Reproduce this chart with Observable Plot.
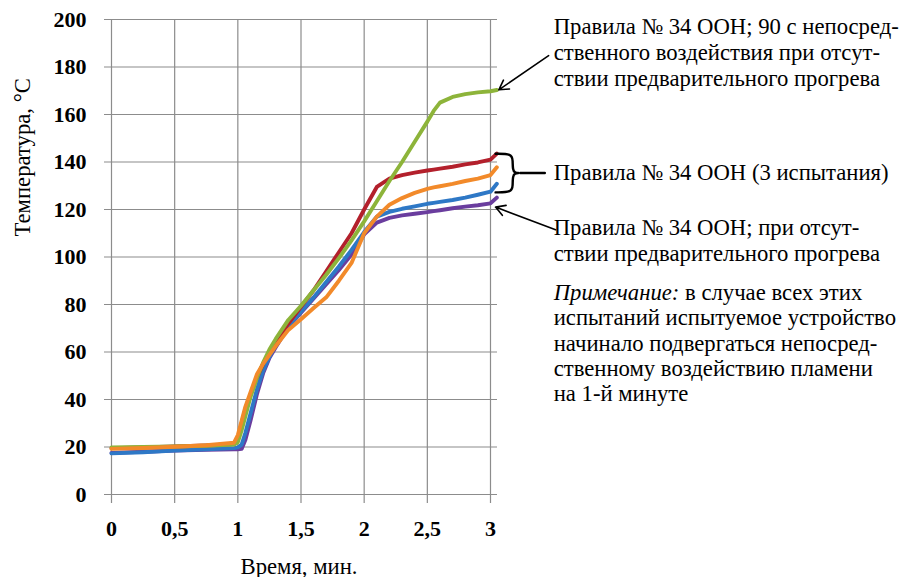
<!DOCTYPE html>
<html>
<head>
<meta charset="utf-8">
<script src="https://cdn.jsdelivr.net/npm/d3@7"></script>
<script src="https://cdn.jsdelivr.net/npm/@observablehq/plot@0.6"></script>
<style>
  html, body { margin: 0; padding: 0; background: #fff; }
  #chart { width: 904px; height: 577px; }
  #chart svg, #chart svg text, #chart svg tspan { font-family: "Liberation Serif", "Times New Roman", "DejaVu Serif", serif !important; }
</style>
</head>
<body>
<div id="chart"></div>
<script>
// ---- data ----
const time = [0, 0.25, 0.5, 0.75, 0.97, 1.0, 1.03, 1.06, 1.1, 1.15, 1.2, 1.25, 1.3, 1.4, 1.5, 1.6, 1.7, 1.8, 1.9, 2.0, 2.1, 2.2, 2.3, 2.4, 2.5, 2.55, 2.6, 2.7, 2.8, 2.9, 3.0, 3.05];
const green  = [19.8, 20, 20.2, 20.5, 21, 22, 27, 33, 41, 49, 55.5, 61, 65.5, 73.5, 79.5, 86, 92.5, 99.5, 107, 115, 123.5, 132, 140, 148.5, 157, 161.5, 165, 167.4, 168.6, 169.3, 169.8, 170.3];
const red    = [19.5, 19.8, 20.2, 20.6, 21.2, 23, 30, 36, 42, 49, 55, 60, 64, 72, 79, 86, 94, 102, 110, 120, 129.5, 133, 134.5, 135.5, 136.4, 136.8, 137.2, 138, 139, 139.8, 141, 143.5];
const orange = [19.2, 19.6, 20.1, 20.7, 21.8, 25, 31, 37, 43, 50.5, 55, 58.8, 62.5, 69.3, 73.8, 78.5, 83, 90, 97.5, 110, 117, 122, 124.8, 127, 128.7, 129.3, 129.8, 130.8, 132, 133, 134.5, 137.8];
const blue   = [17.3, 17.8, 18.5, 19, 19.5, 19.8, 21, 26, 34, 44, 52, 58, 63, 71, 77, 83, 89.5, 96, 103, 110.5, 117, 119, 120.3, 121.3, 122.4, 122.8, 123.2, 124, 125, 126.2, 127.5, 130.8];
const purple = [17.5, 18, 18.5, 18.8, 19, 19, 19.2, 23, 31, 42, 51, 57.5, 62, 70.5, 76.5, 82.5, 88.5, 94.5, 101, 109.5, 114.5, 116.5, 117.5, 118.2, 118.9, 119.3, 119.7, 120.5, 121.2, 121.8, 122.6, 125];

const xTicks = [0, 0.5, 1, 1.5, 2, 2.5, 3];
const yTicks = [0, 20, 40, 60, 80, 100, 120, 140, 160, 180, 200];
const xTitle = "Время, мин.";
const yTitle = "Температура, °C";
const labelGreen = "Правила № 34 ООН; 90 с непосред-\nственного воздействия при отсут-\nствии предварительного прогрева";
const labelGroup = "Правила № 34 ООН (3 испытания)";
const labelPurple = "Правила № 34 ООН; при отсут-\nствии предварительного прогрева";
const noteItalic = "Примечание:";
const noteText = "Примечание: в случае всех этих\nиспытаний испытуемое устройство\nначинало подвергаться непосред-\nственному воздействию пламени\nна 1-й минуте";

// ---- build tables ----
const toRows = (vals) => time.map((t, i) => ({t, v: vals[i]}));
const seriesDraw = [
  {vals: purple, color: "#6a3d9e"},
  {vals: blue,   color: "#2e78c6"},
  {vals: red,    color: "#b3202c"},
  {vals: green,  color: "#8db43a"},
  {vals: orange, color: "#f28a2a"}
];

const last = time.length - 1;
const tEnd = time[last];
const braceTop = red[last];
const braceBot = blue[last] - 3.6;
const braceMid = (braceTop + braceBot) / 2;
const braceX0 = tEnd - 0.01, braceX1 = tEnd + 0.12, braceTip = tEnd + 0.185, braceEnd = tEnd + 0.38;
const brace = [
  {x: braceX0, y: braceTop}, {x: braceX1, y: braceTop}, {x: braceX1 + 0.006, y: braceTop - 3},
  {x: braceX1 + 0.006, y: braceMid + 1.6}, {x: braceX1 + 0.02, y: braceMid}, {x: braceTip, y: braceMid},
  {x: braceX1 + 0.02, y: braceMid}, {x: braceX1 + 0.006, y: braceMid - 1.6},
  {x: braceX1 + 0.006, y: braceBot + 3}, {x: braceX1, y: braceBot}, {x: braceX0, y: braceBot}
];

const font = "Liberation Serif, Times New Roman, serif";
const textX = 3.5;
const T = {fontFamily: font};
const A = {fontFamily: font, fontSize: 22.7};

const chart = Plot.plot({
  width: 904,
  height: 577,
  marginLeft: 104,
  marginRight: 407,
  marginTop: 19,
  marginBottom: 74,
  x: {domain: [-0.0554, 3.0554]},
  y: {domain: [-3.8, 200]},
  style: {fontFamily: font, fontSize: "22px", background: "#fff", color: "#000", overflow: "visible"},
  marks: [
    Plot.ruleY(yTicks, {stroke: "#8c8c8c", strokeWidth: 1.2}),
    Plot.ruleX(xTicks, {stroke: "#8c8c8c", strokeWidth: 1.2}),
    Plot.axisY(yTicks, {...T, tickSize: 0, tickPadding: 18, fontWeight: "bold", label: null}),
    Plot.axisX(xTicks, {...T, tickSize: 0, tickPadding: 17, fontWeight: "bold", label: null,
      tickFormat: d => String(d).replace(".", ",")}),
    ...seriesDraw.map(s => Plot.line(toRows(s.vals), {x: "t", y: "v", stroke: s.color, strokeWidth: 3.9, strokeLinejoin: "round", strokeLinecap: "round"})),
    Plot.text([xTitle], {...A, frameAnchor: "bottom", text: d => d, dx: -2, dy: 63, lineAnchor: "middle"}),
    Plot.text([yTitle], {...A, frameAnchor: "left", text: d => d, rotate: -90, dx: -82, dy: -25, lineAnchor: "middle"}),
    // annotations
    Plot.text([labelGreen], {...A, x: textX, y: 186.3, text: d => d, textAnchor: "start", lineAnchor: "middle", lineHeight: 1.15}),
    Plot.text([labelGroup], {...A, x: textX, y: braceMid, text: d => d, textAnchor: "start", lineAnchor: "middle"}),
    Plot.text([labelPurple], {...A, x: textX, y: 107.2, text: d => d, textAnchor: "start", lineAnchor: "middle", lineHeight: 1.11}),
    Plot.text([noteText], {...A, x: textX, y: 64, text: d => d, textAnchor: "start", lineAnchor: "middle", lineHeight: 1.11}),
    Plot.arrow([{x1: 3.46, y1: 184.8, x2: tEnd + 0.016, y2: green[last] + 0.1}], {x1: "x1", y1: "y1", x2: "x2", y2: "y2", stroke: "#000", strokeWidth: 1.6, headLength: 10, bend: 0}),
    Plot.arrow([{x1: 3.515, y1: 111.5, x2: tEnd - 0.01, y2: purple[last] - 4}], {x1: "x1", y1: "y1", x2: "x2", y2: "y2", stroke: "#000", strokeWidth: 1.6, headLength: 10, bend: 0}),
    Plot.line(brace, {x: "x", y: "y", curve: "basis", stroke: "#000", strokeWidth: 2.4}),
    Plot.line([{x: braceTip, y: braceMid}, {x: braceEnd, y: braceMid}], {x: "x", y: "y", stroke: "#000", strokeWidth: 2.4})
  ]
});

// italic lead word of the note
chart.querySelectorAll("tspan, text").forEach(el => {
  if (el.childElementCount === 0 && el.textContent.startsWith(noteItalic + " ")) {
    const rest = el.textContent.slice(noteItalic.length);
    el.textContent = "";
    const it = document.createElementNS("http://www.w3.org/2000/svg", "tspan");
    it.setAttribute("font-style", "italic");
    it.textContent = noteItalic;
    el.appendChild(it);
    el.appendChild(document.createTextNode(rest));
  }
});

document.getElementById("chart").appendChild(chart);
</script>
</body>
</html>
